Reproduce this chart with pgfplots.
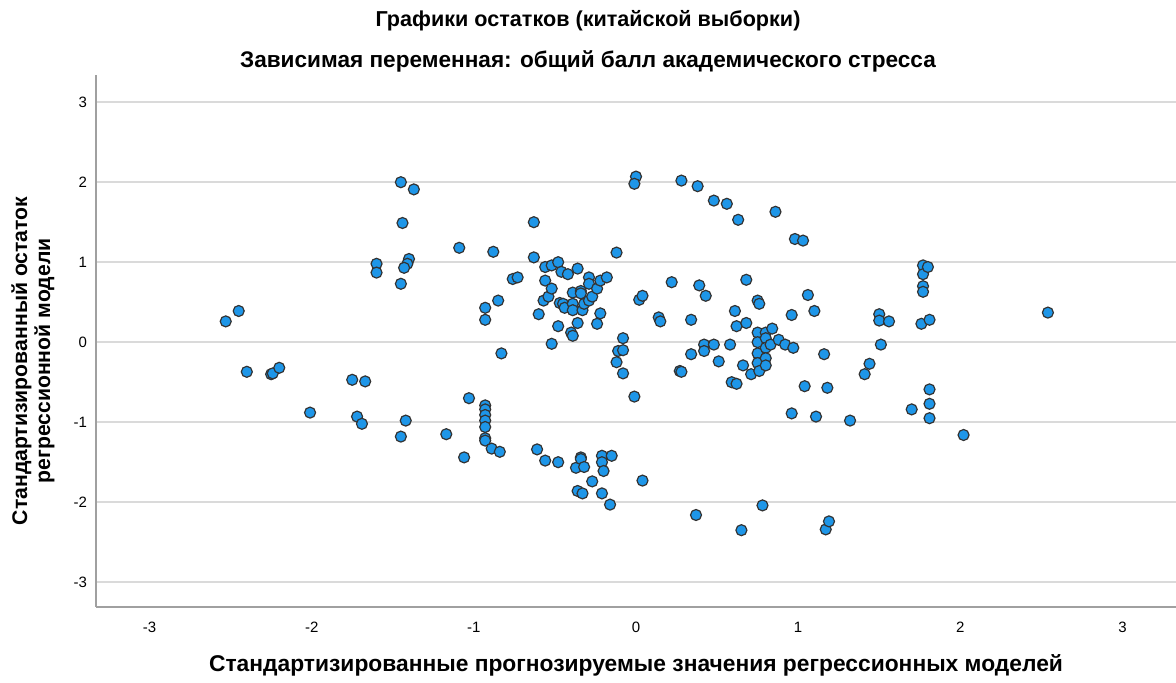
\documentclass[border=0pt]{standalone}
\usepackage{fontspec}
\setmainfont{Liberation Sans}
\usepackage{pgfplots}
\pgfplotsset{compat=1.18}
\definecolor{ptfill}{RGB}{30,150,232}
\definecolor{axgray}{RGB}{160,160,160}
\definecolor{gridgray}{RGB}{218,218,218}

\begin{document}
\begin{tikzpicture}
\begin{axis}[
  at={(0,0)}, anchor=south west,
  scale only axis,
  width=540pt, height=266pt,
  xmin=-3.33, xmax=3.33, ymin=-3.31, ymax=3.34,
  axis x line*=bottom, axis y line*=left,
  axis line style={draw=axgray, line width=1pt, -},
  xtick={-3,-2,-1,0,1,2,3}, ytick={-3,-2,-1,0,1,2,3},
  major tick length=0pt,
  ymajorgrids,
  major grid style={draw=gridgray, line width=1pt},
  /pgf/number format/assume math mode=true,
  tick label style={font=\fontsize{7.5}{9}\selectfont},
  xticklabel style={yshift=-4pt},
  yticklabel style={xshift=-1pt},
  clip=false,
]
\addplot[only marks, mark=*, mark size=2.75pt,
  mark options={draw=black!80, fill=ptfill, line width=0.6pt}]
coordinates {
(-2.53,0.26)(-2.45,0.39)(-2.40,-0.37)(-2.25,-0.40)(-2.24,-0.39)(-2.20,-0.32)
(-2.01,-0.88)(-1.75,-0.47)(-1.67,-0.49)(-1.72,-0.93)(-1.69,-1.02)
(-1.60,0.98)(-1.60,0.87)(-1.45,2.00)(-1.37,1.91)(-1.44,1.49)(-1.40,1.04)
(-1.41,0.98)(-1.43,0.93)(-1.45,0.73)(-1.42,-0.98)(-1.45,-1.18)
(-1.17,-1.15)(-1.09,1.18)(-1.06,-1.44)(-1.03,-0.70)
(-0.93,0.43)(-0.93,0.28)(-0.88,1.13)(-0.85,0.52)(-0.83,-0.14)(-0.76,0.79)(-0.73,0.81)
(-0.93,-0.79)(-0.93,-0.84)(-0.93,-0.91)(-0.93,-0.98)(-0.93,-1.06)(-0.93,-1.20)
(-0.93,-1.23)(-0.89,-1.33)(-0.84,-1.37)
(-0.63,1.50)(-0.63,1.06)(-0.61,-1.34)(-0.60,0.35)(-0.57,0.52)(-0.56,0.94)
(-0.56,0.77)(-0.56,-1.48)(-0.54,0.57)(-0.52,0.96)(-0.52,0.67)(-0.52,-0.02)
(-0.48,1.00)(-0.48,0.20)(-0.48,-1.50)(-0.47,0.49)(-0.46,0.88)(-0.45,0.48)
(-0.44,0.43)(-0.42,0.85)(-0.40,0.12)(-0.39,0.08)(-0.39,0.62)(-0.39,0.48)
(-0.39,0.40)(-0.37,-1.57)(-0.36,0.92)(-0.36,0.24)(-0.36,-1.86)(-0.34,0.64)
(-0.34,0.61)(-0.34,-1.44)(-0.34,-1.46)(-0.33,0.40)(-0.33,-1.89)(-0.32,0.48)
(-0.32,-1.56)(-0.29,0.81)(-0.29,0.73)(-0.29,0.52)(-0.27,0.57)(-0.27,-1.74)
(-0.24,0.67)(-0.24,0.23)(-0.22,0.77)(-0.22,0.36)(-0.21,-1.42)(-0.21,-1.50)
(-0.21,-1.89)(-0.20,-1.61)(-0.18,0.81)(-0.16,-2.03)(-0.15,-1.42)
(-0.12,1.12)(-0.12,-0.25)(-0.11,-0.11)(-0.08,-0.10)(-0.08,0.05)(-0.08,-0.39)
(-0.01,-0.68)(0.00,2.07)(-0.01,1.98)(0.02,0.53)(0.04,0.58)(0.04,-1.73)
(0.14,0.31)(0.15,0.26)(0.22,0.75)(0.27,-0.36)(0.28,-0.37)(0.28,2.02)
(0.34,0.28)(0.34,-0.15)(0.37,-2.16)(0.38,1.95)(0.39,0.71)(0.42,-0.03)
(0.42,-0.11)(0.43,0.58)(0.48,1.77)(0.48,-0.03)(0.51,-0.24)(0.56,1.73)
(0.58,-0.03)(0.59,-0.50)(0.61,0.39)(0.62,0.20)(0.62,-0.52)(0.63,1.53)
(0.65,-2.35)(0.66,-0.29)(0.68,0.78)(0.68,0.24)(0.71,-0.40)(0.75,0.52)
(0.76,0.48)(0.75,0.12)(0.75,0.00)(0.75,-0.14)(0.75,-0.26)(0.76,-0.36)
(0.78,-2.04)(0.80,0.12)(0.80,0.05)(0.80,-0.07)(0.80,-0.20)(0.80,-0.29)
(0.83,-0.03)(0.84,0.17)(0.86,1.63)(0.88,0.03)(0.92,-0.03)(0.96,0.34)
(0.96,-0.89)(0.97,-0.07)(0.98,1.29)(1.03,1.27)(1.04,-0.55)(1.06,0.59)
(1.10,0.39)(1.11,-0.93)(1.16,-0.15)(1.17,-2.34)(1.18,-0.57)(1.19,-2.24)
(1.32,-0.98)(1.41,-0.40)(1.44,-0.27)(1.50,0.35)(1.50,0.27)(1.51,-0.03)
(1.56,0.26)(1.70,-0.84)(1.76,0.23)(1.77,0.96)(1.77,0.85)(1.77,0.70)
(1.77,0.63)(1.80,0.94)(1.81,0.28)(1.81,-0.59)(1.81,-0.77)(1.81,-0.95)
(2.02,-1.16)(2.54,0.37)
};
\end{axis}
% titles and axis labels (positions in pt, 1 px of the reference = 0.5pt)
\node[font=\bfseries\fontsize{10.8}{12}\selectfont] at (246pt,293pt)
  {Графики остатков (китайской выборки)};
\node[font=\bfseries\fontsize{11.3}{13}\selectfont] at (246pt,273pt)
  {Зависимая переменная: общий балл академического стресса};
\node[font=\bfseries\fontsize{11.4}{13}\selectfont] at (270pt,-29pt)
  {Стандартизированные прогнозируемые значения регрессионных моделей};
\node[font=\bfseries\fontsize{10.6}{11.5}\selectfont, rotate=90, align=center] at (-31.5pt,123pt)
  {Стандартизированный остаток\\регрессионной модели};
\pgfresetboundingbox
\path (-48pt,-38pt) rectangle (540pt,303.5pt);
\end{tikzpicture}
\end{document}
